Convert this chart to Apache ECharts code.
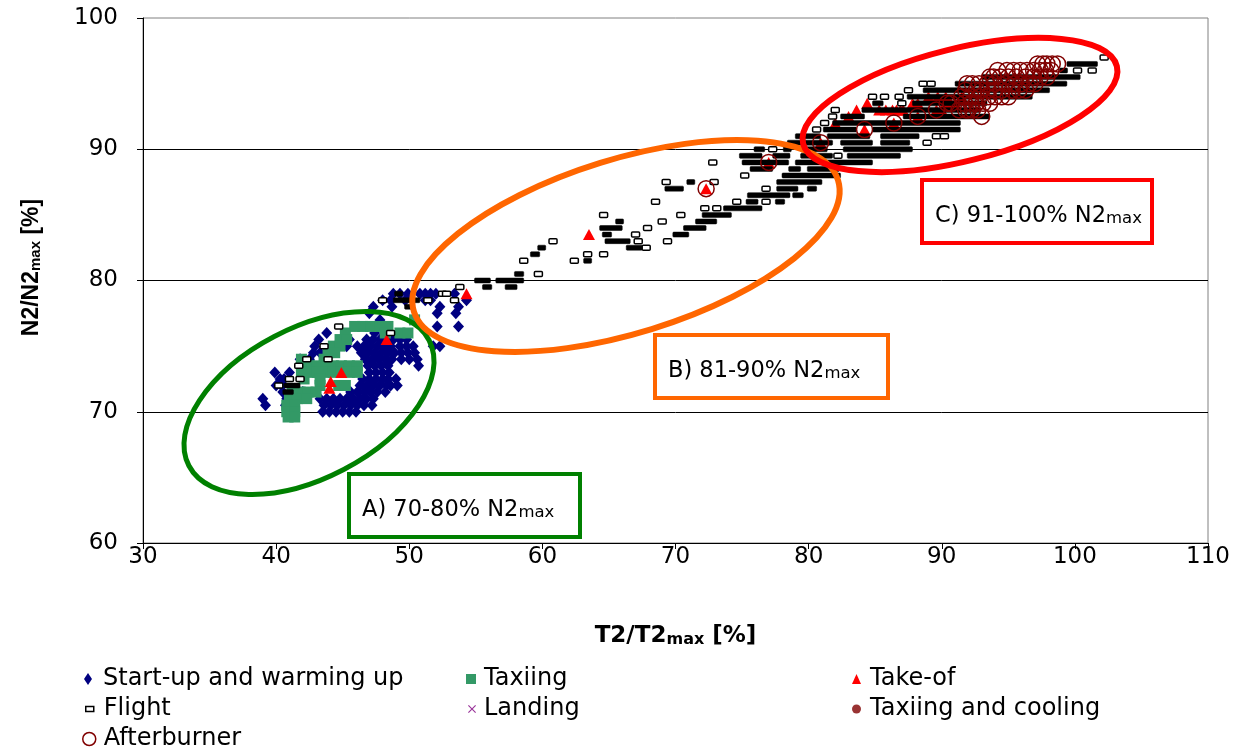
<!DOCTYPE html>
<html><head><meta charset="utf-8">
<script src="https://cdn.jsdelivr.net/npm/echarts@6/dist/echarts.min.js"></script>
<style>html,body{margin:0;padding:0;background:#fff}#c{width:1244px;height:754px}</style>
</head><body><div id="c"></div>
<script>
// ---------- axis ticks ----------
const xTicks = [30, 40, 50, 60, 70, 80, 90, 100, 110];
const yTicks = [60, 70, 80, 90, 100];

// ---------- series names ----------
const seriesNames = ['Start-up and warming up', 'Taxiing', 'Take-of', 'Flight', 'Landing', 'Taxiing and cooling', 'Afterburner'];

// ---------- data (T2/T2max, N2/N2max) ----------
const startUpPoints = [
  [48.8,79.0],[49.3,79.0],[49.9,79.0],[50.8,79.0],[51.2,79.0],[51.6,79.0],[52.0,79.0],[53.4,79.0],
  [48.0,78.5],[48.6,78.5],[49.7,78.5],[51.2,78.5],[51.6,78.5],[54.3,78.5],
  [47.3,78.0],[48.7,78.0],[52.3,78.0],[53.7,78.0],
  [47.0,77.5],[52.1,77.5],[53.5,77.5],
  [47.8,77.0],
  [48.1,76.5],[52.1,76.5],[53.7,76.5],
  [43.8,76.0],[47.4,76.0],
  [43.2,75.5],[45.5,75.5],[46.8,75.5],[47.3,75.5],[47.8,75.5],[48.3,75.5],[48.8,75.5],[49.3,75.5],[49.8,75.5],
  [42.9,75.0],[45.3,75.0],[46.1,75.0],[46.6,75.0],[47.1,75.0],[47.6,75.0],[48.1,75.0],[48.6,75.0],[49.3,75.0],[49.8,75.0],[50.3,75.0],[51.8,75.0],[52.3,75.0],
  [42.8,74.5],[43.3,74.5],[46.4,74.5],[46.9,74.5],[47.4,74.5],[47.9,74.5],[48.4,74.5],[48.9,74.5],[49.4,74.5],[49.9,74.5],[50.4,74.5],
  [41.8,74.0],[42.5,74.0],[46.7,74.0],[47.2,74.0],[47.7,74.0],[48.2,74.0],[48.7,74.0],[49.4,74.0],[50.0,74.0],[50.6,74.0],
  [42.8,73.5],[46.9,73.5],[47.4,73.5],[47.9,73.5],[48.4,73.5],[50.7,73.5],
  [39.9,73.0],[41.0,73.0],[47.0,73.0],[47.5,73.0],[48.0,73.0],[48.5,73.0],
  [40.3,72.5],[40.6,72.5],[46.5,72.5],[47.0,72.5],[47.5,72.5],[48.0,72.5],[48.4,72.5],[49.0,72.5],
  [40.0,72.0],[40.4,72.0],[46.3,72.0],[46.8,72.0],[47.3,72.0],[47.8,72.0],[48.3,72.0],[48.6,72.0],[49.1,72.0],
  [40.5,71.5],[42.0,71.5],[45.6,71.5],[46.1,71.5],[46.6,71.5],[47.1,71.5],[47.6,71.5],[48.2,71.5],
  [39.0,71.0],[40.8,71.0],[41.4,71.0],[43.3,71.0],[43.8,71.0],[44.3,71.0],[44.8,71.0],[45.3,71.0],[45.8,71.0],[46.3,71.0],[46.8,71.0],[47.3,71.0],
  [39.2,70.5],[40.7,70.5],[43.6,70.5],[44.1,70.5],[44.6,70.5],[45.1,70.5],[45.6,70.5],[46.1,70.5],[46.6,70.5],[47.2,70.5],
  [43.5,70.0],[44.0,70.0],[44.5,70.0],[45.0,70.0],[45.5,70.0],[46.0,70.0]
];
const taxiingPoints = [
  [45.9,76.5],[46.5,76.5],[47.1,76.5],[47.8,76.5],[48.4,76.5],
  [45.2,76.0],[48.2,76.0],[49.3,76.0],[49.9,76.0],
  [50.4,77.0],
  [44.8,75.5],[45.3,75.5],
  [44.3,75.0],[44.8,75.0],
  [43.9,74.5],[44.4,74.5],
  [41.9,74.0],[43.6,74.0],
  [41.9,73.5],[42.5,73.5],[43.1,73.5],[43.7,73.5],[44.3,73.5],[44.9,73.5],[45.5,73.5],[46.1,73.5],
  [41.9,73.0],[42.5,73.0],[43.1,73.0],[43.7,73.0],[44.3,73.0],[44.9,73.0],[45.5,73.0],[46.1,73.0],
  [42.1,72.5],[43.3,72.5],
  [43.3,72.0],[44.7,72.0],[45.2,72.0],
  [41.2,71.5],[41.8,71.5],[42.4,71.5],[43.0,71.5],
  [41.0,71.0],[41.6,71.0],[42.3,71.0],
  [40.8,70.5],[41.4,70.5],
  [40.8,70.0],[41.4,70.0],
  [40.9,69.6],[41.4,69.6]
];
const takeOffPoints = [
  [44.0,71.8],[44.1,72.3],[44.9,73.0],[48.3,75.5],[54.3,79.0],[63.5,83.5],[72.3,87.0],[77.0,89.0],
  [80.9,90.5],[82.0,92.0],[83.0,92.5],[83.6,93.0],[84.4,93.5],[84.2,91.5],[86.4,92.0],[85.3,93.0],
  [85.8,93.0],[86.3,93.0],[86.6,93.0],[86.9,93.0],[87.1,93.0],[88.2,92.5],[87.8,93.5],[88.2,93.5],
  [89.6,93.0],[89.0,94.0],[89.7,94.0],[90.3,94.0],[90.0,93.0],[90.4,93.5],[90.7,93.5],[91.0,93.5],[91.5,94.0]
];
// flight: horizontal runs of markers [T2 start, T2 end, N2]
const flightRuns = [
  [40.5,41.3,71.5],
  [40.2,40.2,72.0],[40.6,41.8,72.0],
  [41.0,41.0,72.5],[41.8,41.8,72.5],
  [41.7,41.7,73.5],
  [42.3,42.3,74.0],[43.9,43.9,74.0],
  [43.6,43.6,75.0],
  [48.6,48.6,76.0],
  [44.7,44.7,76.5],
  [49.7,50.2,78.0],
  [48.0,48.0,78.5],[48.8,50.8,78.5],[51.4,51.4,78.5],[53.4,53.4,78.5],
  [48.9,49.5,79.0],[52.5,52.5,79.0],[52.8,52.8,79.0],
  [53.8,53.8,79.5],[55.5,56.2,79.5],[57.2,58.1,79.5],
  [54.9,56.1,80.0],[56.5,58.6,80.0],
  [57.9,58.6,80.5],[59.7,59.7,80.5],
  [58.6,58.6,81.5],[62.4,62.4,81.5],[63.1,63.7,81.5],
  [59.1,59.8,82.0],[63.4,63.4,82.0],[64.6,64.6,82.0],
  [59.7,60.2,82.5],[66.3,67.5,82.5],[67.8,67.8,82.5],
  [60.8,60.8,83.0],[64.7,66.6,83.0],[67.2,67.2,83.0],[69.4,69.4,83.0],
  [64.5,65.2,83.5],[67.0,67.0,83.5],[69.8,71.0,83.5],
  [64.3,66.0,84.0],[67.9,67.9,84.0],[70.6,72.3,84.0],
  [65.6,66.0,84.5],[69.0,69.0,84.5],[71.5,73.1,84.5],
  [64.6,64.6,85.0],[70.4,70.4,85.0],[72.0,74.2,85.0],
  [72.2,72.2,85.5],[73.1,73.1,85.5],[73.6,76.5,85.5],
  [68.5,68.5,86.0],[74.6,74.6,86.0],[75.3,76.2,86.0],[76.8,76.8,86.0],[77.5,78.2,86.0],
  [75.4,78.6,86.5],[78.8,79.6,86.5],
  [69.2,70.6,87.0],[76.8,76.8,87.0],[77.6,79.2,87.0],[79.9,80.6,87.0],
  [69.3,69.3,87.5],[70.9,71.4,87.5],[72.9,72.9,87.5],[77.6,81.0,87.5],
  [75.2,75.2,88.0],[78.0,82.4,88.0],
  [75.6,77.3,88.5],[78.5,79.4,88.5],[79.9,82.3,88.5],
  [72.8,72.8,89.0],[75.0,78.5,89.0],[79.0,84.8,89.0],
  [74.8,76.5,89.5],[77.3,78.6,89.5],[79.4,81.8,89.5],[82.2,82.2,89.5],[82.9,86.9,89.5],
  [75.9,76.7,90.0],[77.3,77.3,90.0],[78.1,78.7,90.0],[79.4,81.4,90.0],[82.6,87.8,90.0],
  [78.4,81.8,90.5],[82.4,84.8,90.5],[85.4,87.6,90.5],[88.9,88.9,90.5],
  [79.0,80.9,91.0],[81.4,84.6,91.0],[85.4,88.3,91.0],[89.6,89.6,91.0],[90.2,90.2,91.0],
  [80.6,80.6,91.5],[81.1,83.6,91.5],[84.8,91.4,91.5],
  [81.2,81.2,92.0],[81.8,91.4,92.0],
  [81.8,81.8,92.5],[82.4,84.2,92.5],[87.1,93.6,92.5],
  [82.0,82.0,93.0],[84.0,92.9,93.0],
  [84.8,85.6,93.5],[87.0,87.0,93.5],[87.8,93.4,93.5],
  [84.8,84.8,94.0],[85.7,85.7,94.0],[86.8,86.8,94.0],[87.4,96.8,94.0],
  [87.5,87.5,94.5],[88.6,98.1,94.5],
  [88.6,88.6,95.0],[89.2,89.2,95.0],[91.0,99.4,95.0],
  [93.0,100.4,95.5],
  [98.9,99.4,96.0],[100.2,100.2,96.0],[101.3,101.3,96.0],
  [99.4,101.7,96.5],
  [102.2,102.2,97.0]
];
const landingPoints = [];
const coolingPoints = [];
const afterburnerPoints = [
  [72.3,87.0],[77.0,89.0],[80.9,90.5],[84.2,91.5],[86.4,92.0],[88.2,92.5],[89.6,93.0],[90.4,93.5],
  [90.7,93.5],[91.5,94.0],[91.3,93.0],[91.8,93.0],[92.0,93.0],[92.3,93.0],[92.7,93.0],[93.0,92.5],
  [91.8,94.5],[91.9,95.0],[92.3,95.0],[92.6,94.5],[93.0,94.5],[93.5,94.5],[94.0,94.5],[92.2,94.0],
  [92.8,94.0],[93.5,94.0],[94.0,94.0],[94.5,94.0],[95.0,94.0],[91.7,93.5],[92.2,93.5],[92.6,93.5],
  [93.1,93.5],[93.6,93.5],[92.8,95.0],[93.4,95.0],[94.0,95.0],[94.8,95.0],[95.4,95.0],[96.0,95.0],
  [96.6,95.0],[97.0,95.0],[94.5,94.5],[95.3,94.5],[95.8,94.5],[96.3,94.5],[93.6,95.5],[93.9,95.5],
  [94.4,95.5],[95.0,95.5],[95.6,95.5],[96.3,95.5],[96.9,95.5],[97.4,95.5],[97.9,95.5],[94.2,96.0],
  [94.9,96.0],[95.4,96.0],[95.9,96.0],[96.4,96.0],[96.9,96.0],[97.4,96.0],[97.8,96.0],[98.2,96.0],
  [97.2,96.5],[97.6,96.5],[97.9,96.5],[98.3,96.5],[98.7,96.5]
];

// ---------- annotation texts ----------
const zoneLabels = [['A) 70-80% N2', 'max'], ['B) 81-90% N2', 'max'], ['C) 91-100% N2', 'max']];

// ---------- styling ----------
const FONT = 'DejaVu Sans';
const chart = echarts.init(document.getElementById('c'), null, {renderer: 'canvas'});

function legendFor(name, left, centerY, w, h, icon, itemStyle, pad) {
  return {
    show: true, orient: 'horizontal', left: left, top: centerY - 14, padding: 0,
    itemWidth: w, itemHeight: h, itemGap: 0, selectedMode: false,
    data: [{name: name, icon: icon, itemStyle: itemStyle}],
    textStyle: {fontFamily: FONT, fontSize: 24, color: '#000', lineHeight: 28, padding: [0, 0, 0, pad]}
  };
}
const xPath = 'path://M0,1L1,0L5,4L9,0L10,1L6,5L10,9L9,10L5,6L1,10L0,9L4,5Z';

function zoneBox(x, y, w, h, color, label) {
  return {
    type: 'group', z: 100,
    children: [
      {type: 'rect', shape: {x: x, y: y, width: w, height: h}, style: {fill: '#fff', stroke: color, lineWidth: 4}},
      {type: 'text', x: x + 13, y: y + h / 2 + 2, style: {
        text: '{m|' + label[0] + '}{s|' + label[1] + '}', verticalAlign: 'middle',
        rich: {
          m: {fontFamily: FONT, fontSize: 22.5, fill: '#000', lineHeight: 28, verticalAlign: 'bottom'},
          s: {fontFamily: FONT, fontSize: 16.5, fill: '#000', lineHeight: 14, verticalAlign: 'bottom'}
        }
      }}
    ]
  };
}
function ring(cx, cy, rx, ry, deg, color, lw) {
  return {type: 'ellipse', z: 90, x: cx, y: cy, rotation: deg * Math.PI / 180,
    shape: {cx: 0, cy: 0, rx: rx, ry: ry}, style: {fill: 'none', stroke: color, lineWidth: lw}};
}

const option = {
  animation: false,
  backgroundColor: '#fff',
  grid: {left: 143, right: 36, top: 18, bottom: 211, show: true, borderColor: '#808080', borderWidth: 1, backgroundColor: 'transparent'},
  xAxis: {
    type: 'value', min: xTicks[0], max: xTicks[xTicks.length - 1], interval: xTicks[1] - xTicks[0],
    axisLine: {show: true, lineStyle: {color: '#000', width: 1}},
    axisTick: {show: true, inside: false, length: 6, lineStyle: {color: '#000'}},
    axisLabel: {fontFamily: FONT, fontSize: 23, color: '#000', margin: 3},
    splitLine: {show: false},
    name: '{m|T2/T2}{s|max}{m| [%]}', nameLocation: 'middle', nameGap: 77,
    nameTextStyle: {rich: {
      m: {fontFamily: FONT, fontWeight: 'bold', fontSize: 23, color: '#000', lineHeight: 28, verticalAlign: 'bottom'},
      s: {fontFamily: FONT, fontWeight: 'bold', fontSize: 16, color: '#000', lineHeight: 14, verticalAlign: 'bottom'}
    }}
  },
  yAxis: {
    type: 'value', min: yTicks[0], max: yTicks[yTicks.length - 1], interval: yTicks[1] - yTicks[0],
    axisLine: {show: true, lineStyle: {color: '#000', width: 1}},
    axisTick: {show: true, inside: false, length: 6, lineStyle: {color: '#000'}},
    axisLabel: {fontFamily: FONT, fontSize: 23, color: '#000', margin: 25},
    splitLine: {show: true, showMinLine: false, showMaxLine: false, lineStyle: {color: '#000', width: 1}},
    name: '{m|N2/N2}{s|max}{m| [%]}', nameLocation: 'middle', nameGap: 100,
    nameTextStyle: {padding: [0, 0, 0, 26], rich: {
      m: {fontFamily: 'Liberation Sans', fontWeight: 'bold', fontSize: 23, color: '#000', lineHeight: 28, verticalAlign: 'bottom'},
      s: {fontFamily: 'Liberation Sans', fontWeight: 'bold', fontSize: 15, color: '#000', lineHeight: 14, verticalAlign: 'bottom'}
    }}
  },
  legend: [
    legendFor(seriesNames[0], 84, 679, 8, 12, 'diamond', {color: '#000080'}, 6),
    legendFor(seriesNames[3], 85, 709, 8, 5, 'rect', {color: '#fff', borderColor: '#000', borderWidth: 1.5}, 5),
    legendFor(seriesNames[6], 82, 739, 13, 13, 'circle', {color: '#fff', borderColor: '#800000', borderWidth: 1.5}, 3),
    legendFor(seriesNames[1], 466, 679, 10, 10, 'rect', {color: '#339966'}, 3),
    legendFor(seriesNames[4], 468, 709, 8, 10, xPath, {color: '#800080'}, 3),
    legendFor(seriesNames[2], 852, 679, 9, 10, 'triangle', {color: '#FF0000'}, 4),
    legendFor(seriesNames[5], 852, 709, 9, 9, 'circle', {color: '#800000'}, 4)
  ],
  series: [
    {name: seriesNames[0], type: 'scatter', data: startUpPoints, symbol: 'diamond', symbolSize: [11, 12],
      itemStyle: {color: '#000080', opacity: 1}, z: 2},
    {name: seriesNames[1], type: 'scatter', data: taxiingPoints, symbol: 'rect', symbolSize: 11,
      itemStyle: {color: '#339966', opacity: 1}, z: 3},
    {name: seriesNames[2], type: 'scatter', data: takeOffPoints, symbol: 'triangle', symbolSize: [12, 11],
      itemStyle: {color: '#FF0000', opacity: 1}, z: 4},
    {name: seriesNames[3], type: 'custom', data: flightRuns, encode: {x: [0, 1], y: 2}, z: 5,
      itemStyle: {color: '#fff', borderColor: '#000'},
      renderItem: function (params, api) {
        const x1 = api.value(0), x2 = api.value(1), y = api.value(2);
        const p1 = api.coord([x1, y]), p2 = api.coord([x2, y]);
        const single = (x2 - x1) < 0.05;
        const w = Math.max(8, p2[0] - p1[0]);
        const cx = (p1[0] + p2[0]) / 2;
        return {type: 'rect', shape: {x: cx - w / 2, y: p1[1] - 2.5, width: w, height: 5, r: 1},
          style: single ? {fill: '#fff', stroke: '#000', lineWidth: 1.5} : {fill: '#000', stroke: '#000', lineWidth: 0.5}};
      }},
    {name: seriesNames[4], type: 'scatter', data: landingPoints, symbol: xPath, symbolSize: 8,
      itemStyle: {color: '#800080'}, z: 6},
    {name: seriesNames[5], type: 'scatter', data: coolingPoints, symbol: 'circle', symbolSize: 9,
      itemStyle: {color: '#800000'}, z: 7},
    {name: seriesNames[6], type: 'scatter', data: afterburnerPoints, symbol: 'circle', symbolSize: 16,
      itemStyle: {color: 'rgba(0,0,0,0)', borderColor: '#800000', borderWidth: 1.5, opacity: 1}, z: 8}
  ],
  graphic: [
    ring(309, 403, 135.5, 75, 27.6, '#008000', 5),
    ring(626, 246, 222, 87, 17.2, '#FF6600', 6),
    ring(960, 105, 161.6, 56.3, 13.9, '#FF0000', 6),
    zoneBox(349, 474, 231, 63, '#008000', zoneLabels[0]),
    zoneBox(655, 335, 233, 63, '#FF6600', zoneLabels[1]),
    zoneBox(922, 180, 230, 63, '#FF0000', zoneLabels[2])
  ]
};
chart.setOption(option);
</script>
</body></html>
